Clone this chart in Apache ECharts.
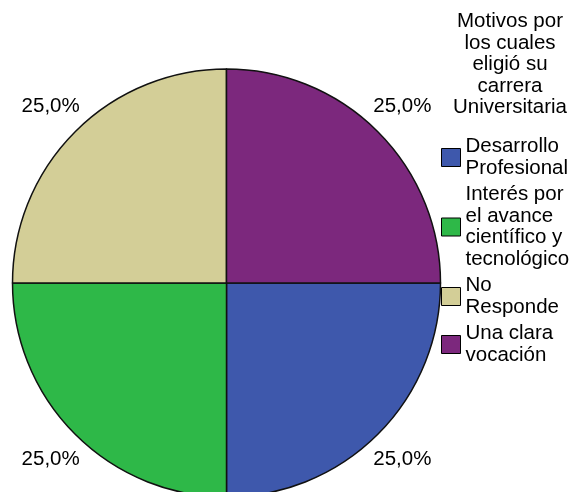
<!DOCTYPE html>
<html>
<head>
<meta charset="utf-8">
<script src="https://cdn.jsdelivr.net/npm/echarts@6/dist/echarts.min.js"></script>
<style>
  html, body { margin: 0; padding: 0; background: #fff; }
  #chart { width: 579px; height: 492px; }
</style>
</head>
<body>
<div id="chart"></div>
<script>
// datos del gráfico
var categorias = ['Desarrollo\nProfesional', 'Interés por\nel avance\ncientífico y\ntecnológico', 'No\nResponde', 'Una clara\nvocación'];
var valores = [25, 25, 25, 25];
var colores = ['#3e58ac', '#2eb848', '#d3ce97', '#7c287d'];
var tituloLeyenda = 'Motivos por\nlos cuales\neligió su\ncarrera\nUniversitaria';

var fuente = '"Liberation Sans", Arial, sans-serif';

var chart = echarts.init(document.getElementById('chart'));

var option = {
  animation: false,
  color: colores,
  title: {
    text: tituloLeyenda,
    left: 510,   // con textAlign center, left es el centro
    top: 11,
    padding: 0,
    textAlign: 'center',
    textStyle: {
      fontFamily: fuente,
      fontSize: 20.5,
      fontWeight: 'normal',
      lineHeight: 21.5,
      color: '#000'
    }
  },
  legend: {
    orient: 'vertical',
    left: 441,
    top: 136,
    padding: 0,
    itemGap: 5,
    itemWidth: 19,
    itemHeight: 18,
    icon: 'rect',
    selectedMode: false,
    itemStyle: { borderColor: '#000', borderWidth: 1 },
    textStyle: {
      fontFamily: fuente,
      fontSize: 20.5,
      lineHeight: 21.5,
      color: '#000'
    },
    data: categorias
  },
  series: [{
    type: 'pie',
    center: [226.5, 283],
    radius: 214,
    startAngle: 0,
    clockwise: true,
    avoidLabelOverlap: false,
    itemStyle: { borderColor: '#111', borderWidth: 1.5 },
    emphasis: { disabled: true },
    label: {
      show: true,
      position: 'outside',
      distanceToLabelLine: -30,
      fontFamily: fuente,
      fontSize: 20.5,
      color: '#000',
      formatter: function (p) {
        return p.percent.toFixed(1).replace('.', ',') + '%';
      }
    },
    labelLine: { show: false, length: 36, length2: 0 },
    data: categorias.map(function (c, i) {
      return { name: c, value: valores[i] };
    })
  }]
};

chart.setOption(option);
</script>
</body>
</html>
